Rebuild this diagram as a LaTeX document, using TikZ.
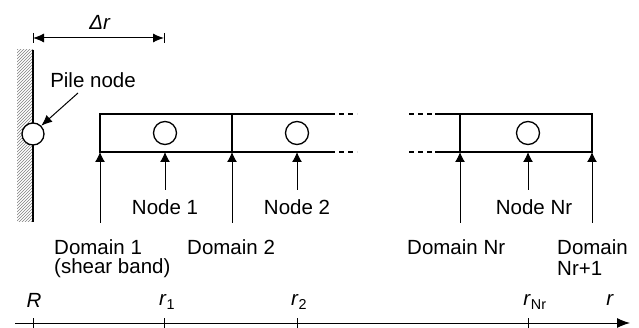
\documentclass[tikz,border=0pt]{standalone}
\usepackage{fontspec}
\setmainfont{Liberation Sans}
\usetikzlibrary{arrows.meta}
\begin{document}
\begin{tikzpicture}[x=1pt,y=-1pt,
  lbl/.style={font=\fontsize{20.5}{24}\selectfont, inner sep=0pt},
  thick2/.style={line width=1.8pt},
  up/.style={line width=1pt, -{Latex[length=10pt,width=10pt]}},
  tick/.style={line width=1pt},
  circ/.style={circle, draw, line width=1.3pt, fill=white, minimum size=23pt, inner sep=0pt}]
\useasboundingbox (0,0) rectangle (639,328);
% wall hatch
\begin{scope}
\clip (17,50) rectangle (33,222);
\foreach \k in {0,3,...,200} {
  \draw[line width=0.4pt, gray] (17,50+\k) -- (33,50+\k-16);
}
\end{scope}
\draw[thick2] (33,50) -- (33,222);
% delta r
\draw[tick] (33,33) -- (33,43);
\draw[tick] (164,33) -- (164,43);
\draw[line width=1pt, {Latex[length=11pt,width=9pt]}-{Latex[length=11pt,width=9pt]}] (33,38) -- (164,38);
\node[lbl] (dr) at (100,22) {\textit{Δr}};
% pile node
\node[circ, minimum size=22pt] (pile) at (33,134) {};
\node[lbl] (piletxt) at (93,80) {Pile node};
\coordinate (pa) at (78,93);
\draw[line width=1pt, -{Latex[length=11pt,width=9pt]}] (pa) -- (pile.north east);
% boxes
\draw[thick2] (330,114) -- (100,114) -- (100,152) -- (330,152);
\draw[thick2] (232,114) -- (232,152);
\draw[thick2, dash pattern=on 5pt off 4pt] (330,114) -- (357,114);
\draw[thick2, dash pattern=on 5pt off 4pt] (330,152) -- (357,152);
\draw[thick2, dash pattern=on 5pt off 4pt] (409,114) -- (435,114);
\draw[thick2, dash pattern=on 5pt off 4pt] (409,152) -- (435,152);
\draw[thick2] (435,114) -- (592,114) -- (592,152) -- (435,152);
\draw[thick2] (460,114) -- (460,152);
\node[circ] (n1) at (165,133) {};
\node[circ] (n2) at (297,133) {};
\node[circ] (nN) at (528,133) {};
% arrows from below
\foreach \x/\n in {100/d1,232/d2,460/dN,592/dM} {
  \coordinate (\n t) at (\x,152);
  \coordinate (\n b) at (\x,223);
  \draw[up] (\n b) -- (\n t);
}
\foreach \x/\n in {165/k1,297/k2,528/kN} {
  \coordinate (\n t) at (\x,152);
  \coordinate (\n b) at (\x,190);
  \draw[up] (\n b) -- (\n t);
}
% labels
\node[lbl] (ln1) at (165,207) {Node 1};
\node[lbl] (ln2) at (297,207) {Node 2};
\node[lbl] (lnN) at (534,207) {Node Nr};
\node[lbl, anchor=west] (ld1) at (54,247) {Domain 1};
\node[lbl, anchor=west] (ld1b) at (54,268) {(shear band)};
\node[lbl, anchor=west] (ld2) at (187,247) {Domain 2};
\node[lbl, anchor=west] (ldN) at (407,247) {Domain Nr};
\node[lbl, anchor=west] (ldM) at (557,247) {Domain};
\node[lbl, anchor=west] (ldMb) at (557,268) {Nr+1};
% axis
\coordinate (ax0) at (15,323);
\coordinate (ax1) at (630,323);
\draw[line width=1pt, -{Latex[length=13pt,width=10pt]}] (ax0) -- (ax1);
\foreach \x in {33,164,297,528} { \draw[tick] (\x,318) -- (\x,328); }
\node[lbl] (lR) at (34,300) {\textit{R}};
\node[lbl] (lr1) at (167,302) {\textit{r}\textsubscript{1}};
\node[lbl] (lr2) at (299,302) {\textit{r}\textsubscript{2}};
\node[lbl] (lrN) at (535,302) {\textit{r}\textsubscript{Nr}};
\node[lbl] (lr) at (610,300) {\textit{r}};
\end{tikzpicture}
\end{document}
